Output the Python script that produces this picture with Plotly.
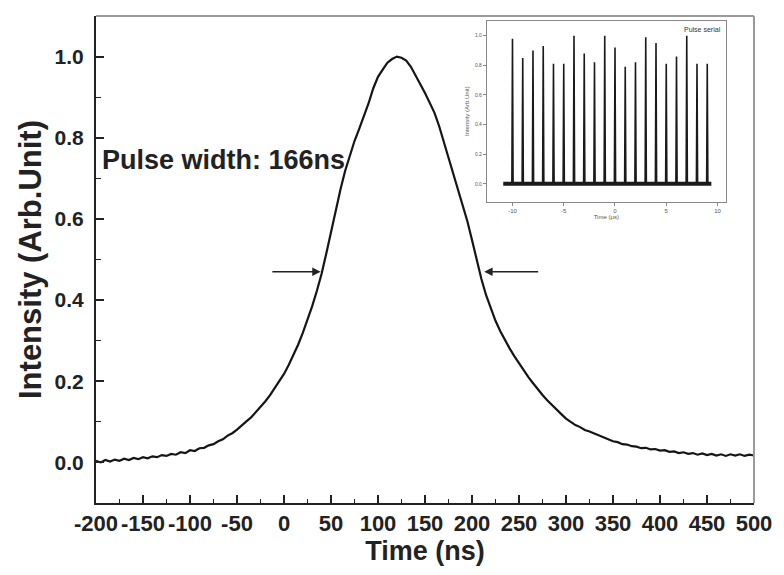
import plotly.graph_objects as go

# ---------------- data ----------------
time_ns = list(range(-200, 505, 5))
intensity = [
    0.004, 0.000, 0.006, 0.002, 0.007, 0.004, 0.009, 0.006, 0.011, 0.008,
    0.013, 0.010, 0.015, 0.013, 0.018, 0.016, 0.021, 0.019, 0.025, 0.023,
    0.030, 0.028, 0.035, 0.036, 0.042, 0.045, 0.052, 0.057, 0.066, 0.072,
    0.081, 0.090, 0.101, 0.111, 0.124, 0.136, 0.150, 0.165, 0.182, 0.199,
    0.218, 0.240, 0.264, 0.290, 0.319, 0.350, 0.385, 0.423, 0.465, 0.515,
    0.568, 0.625, 0.672, 0.718, 0.757, 0.792, 0.822, 0.852, 0.885, 0.922,
    0.950, 0.968, 0.985, 0.994, 1.000, 0.997, 0.990, 0.975, 0.955, 0.932,
    0.910, 0.885, 0.862, 0.829, 0.790, 0.752, 0.713, 0.672, 0.632, 0.595,
    0.548, 0.500, 0.452, 0.412, 0.378, 0.349, 0.324, 0.302, 0.281, 0.262,
    0.244, 0.227, 0.210, 0.195, 0.180, 0.166, 0.153, 0.141, 0.130, 0.119,
    0.108, 0.100, 0.092, 0.087, 0.080, 0.076, 0.071, 0.067, 0.061, 0.058,
    0.052, 0.050, 0.045, 0.044, 0.040, 0.039, 0.035, 0.036, 0.032, 0.033,
    0.029, 0.030, 0.026, 0.027, 0.023, 0.025, 0.021, 0.023, 0.019, 0.022,
    0.018, 0.021, 0.017, 0.020, 0.016, 0.020, 0.017, 0.020, 0.016, 0.019,
    0.017,
]

x_tick_vals = [-200, -150, -100, -50, 0, 50, 100, 150, 200, 250, 300, 350, 400, 450, 500]
x_tick_text = ["-200", "-150", "-100", "-50", "0", "50", "100", "150", "200",
               "250", "300", "350", "400", "450", "500"]
y_tick_vals = [0.0, 0.2, 0.4, 0.6, 0.8, 1.0]
y_tick_text = ["0.0", "0.2", "0.4", "0.6", "0.8", "1.0"]

# FWHM arrows (data coords): level, left tail/tip, right tail/tip
fwhm_level = 0.47
left_arrow = [-14, 39]
right_arrow = [272, 213]
label_text = "Pulse width: 166ns"

# inset: pulse train
pulse_times = [-10, -9, -8, -7, -6, -5, -4, -3, -2, -1, 0, 1, 2, 3, 4, 5, 6, 7, 8, 9]
pulse_heights = [0.98, 0.85, 0.90, 0.93, 0.81, 0.81, 1.00, 0.88, 0.82, 1.00,
                 0.92, 0.79, 0.82, 0.99, 0.95, 0.81, 0.86, 1.00, 0.81, 0.81]
inset_baseline = [-10.9, 9.4]
inset_x_ticks = [-10, -5, 0, 5, 10]
inset_x_text = ["-10", "-5", "0", "5", "10"]
inset_y_ticks = [0.0, 0.2, 0.4, 0.6, 0.8, 1.0]
inset_y_text = ["0.0", "0.2", "0.4", "0.6", "0.8", "1.0"]

# ---------------- figure ----------------
FONT = "Liberation Sans, Arial, sans-serif"
fig = go.Figure()

fig.add_trace(go.Scatter(x=time_ns, y=intensity, mode="lines",
                         line=dict(color="#151515", width=2.2),
                         showlegend=False, hoverinfo="skip"))

# inset traces
spx, spy = [], []
for c, h in zip(pulse_times, pulse_heights):
    spx += [c - 0.06, c, c + 0.06, None]
    spy += [0, h, 0, None]
fig.add_trace(go.Scatter(x=spx, y=spy, mode="lines", xaxis="x2", yaxis="y2",
                         line=dict(color="#1a1a1a", width=1.6),
                         showlegend=False, hoverinfo="skip"))
fig.add_trace(go.Scatter(x=inset_baseline, y=[0, 0], mode="lines", xaxis="x2", yaxis="y2",
                         line=dict(color="#1a1a1a", width=4),
                         showlegend=False, hoverinfo="skip"))

fig.update_layout(
    width=784, height=575,
    margin=dict(l=96, r=20, t=16, b=72),
    paper_bgcolor="white", plot_bgcolor="white",
    font=dict(family=FONT, color="#222"),
    xaxis=dict(
        range=[-200, 500], tickvals=x_tick_vals, ticktext=x_tick_text,
        ticks="inside", ticklen=8, tickwidth=1.5, tickcolor="#222",
        minor=dict(ticks="inside", ticklen=4, dtick=25, tickcolor="#222", tickwidth=1),
        showline=True, linecolor="#222", linewidth=2, mirror=False,
        showgrid=False, zeroline=False,
        tickfont=dict(family=FONT, size=22, weight="bold", color="#222"),
        title=dict(text="Time (ns)", font=dict(family=FONT, size=27, weight="bold", color="#222"),
                   standoff=4),
    ),
    yaxis=dict(
        range=[-0.1, 1.1], tickvals=y_tick_vals, ticktext=y_tick_text,
        ticks="inside", ticklen=8, tickwidth=1.5, tickcolor="#222",
        minor=dict(ticks="inside", ticklen=5, dtick=0.1, tickcolor="#222", tickwidth=1),
        showline=True, linecolor="#222", linewidth=2, mirror=False,
        showgrid=False, zeroline=False, ticklabelstandoff=6,
        tickfont=dict(family=FONT, size=21, weight="bold", color="#222"),
        title=dict(text="Intensity (Arb.Unit)", font=dict(family=FONT, size=31, weight="bold", color="#222"),
                   standoff=4),
    ),
    xaxis2=dict(
        domain=[0.594, 0.957], anchor="y2", range=[-12.5, 10.8],
        tickvals=inset_x_ticks, ticktext=inset_x_text,
        ticks="outside", ticklen=3, tickcolor="#888",
        showline=True, linecolor="#888", linewidth=1, mirror=True,
        showgrid=False, zeroline=False,
        tickfont=dict(family=FONT, size=6, color="#555"),
        title=dict(text="Time (μs)", font=dict(family=FONT, size=6, color="#555"), standoff=2),
    ),
    yaxis2=dict(
        domain=[0.619, 0.99], anchor="x2", range=[-0.12, 1.1],
        tickvals=inset_y_ticks, ticktext=inset_y_text,
        ticks="outside", ticklen=3, tickcolor="#888",
        showline=True, linecolor="#888", linewidth=1, mirror=True,
        showgrid=False, zeroline=False,
        tickfont=dict(family=FONT, size=5, color="#555"),
        title=dict(text="Intensity (Arb.Unit)", font=dict(family=FONT, size=6, color="#555"), standoff=4),
    ),
)

# gray top/right frame
fig.add_shape(type="line", xref="paper", yref="paper", x0=0, x1=1, y0=1, y1=1,
              line=dict(color="#9a9a9a", width=2))
fig.add_shape(type="line", xref="paper", yref="paper", x0=1, x1=1, y0=0, y1=1,
              line=dict(color="#9a9a9a", width=2))

# FWHM arrows
for tail, tip in (left_arrow, right_arrow):
    fig.add_annotation(x=tip, y=fwhm_level, ax=tail, ay=fwhm_level,
                       xref="x", yref="y", axref="x", ayref="y",
                       text="", showarrow=True, arrowhead=2, arrowsize=1.2,
                       arrowwidth=1.4, arrowcolor="#222")

fig.add_annotation(x=-196, y=0.745, xref="x", yref="y", text=label_text,
                   showarrow=False, xanchor="left", yanchor="middle",
                   font=dict(family=FONT, size=27, weight="bold", color="#222"))

fig.add_annotation(x=0.99, y=0.985, xref="x2 domain", yref="y2 domain", text="Pulse serial",
                   showarrow=False, xanchor="right", yanchor="top",
                   font=dict(family=FONT, size=7, color="#333"))

fig.write_html("out.html")
